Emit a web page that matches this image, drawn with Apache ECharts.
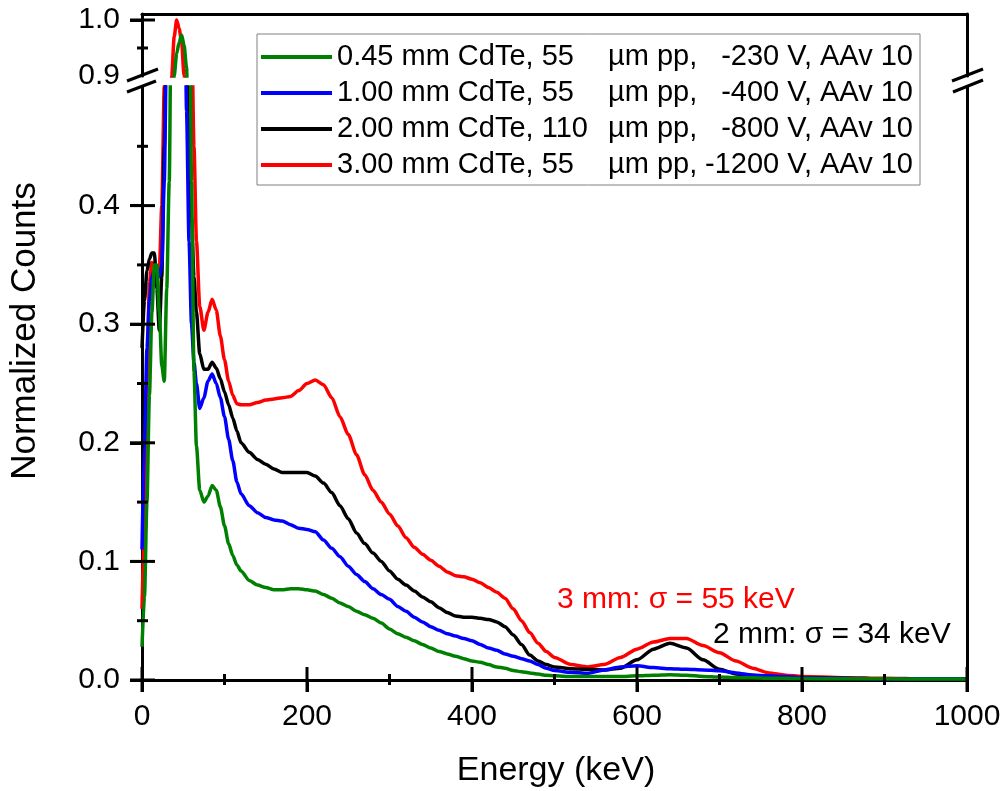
<!DOCTYPE html>
<html>
<head>
<meta charset="utf-8">
<script src="https://cdn.jsdelivr.net/npm/echarts@6/dist/echarts.min.js"></script>
<style>
  html, body { margin: 0; padding: 0; background: #fff; }
  #chart { width: 1004px; height: 791px; }
</style>
</head>
<body>
<div id="chart"></div>
<script>
// energy grid (keV), shared by all four spectra
const energy = [0, 3, 6, 9, 12, 15, 18, 21, 24, 27, 30, 33, 36, 39, 42, 45, 48, 51, 54, 57, 60, 63, 66,
  70, 75, 80, 85, 90, 95, 100, 105, 110, 115, 120,
  130, 140, 150, 160, 170, 180, 190, 200, 210, 220, 230, 240, 250, 260, 270, 280, 290, 300,
  310, 320, 330, 340, 350, 360, 370, 380, 390, 400, 410, 420, 430, 440, 450, 460, 470, 480, 490, 500,
  520, 540, 560, 580, 600, 620, 640, 660, 680, 700, 720, 740, 760, 780, 800,
  850, 900, 950, 1000];

// 0.45 mm
const green = [0.028, 0.07, 0.15, 0.24, 0.31, 0.35, 0.35, 0.31, 0.265, 0.252, 0.33, 0.42, 0.62, 0.9, 0.94, 0.96, 0.973, 0.955, 0.915, 0.7, 0.42, 0.26, 0.197,
  0.16, 0.15, 0.155, 0.164, 0.16, 0.146, 0.13, 0.115, 0.105, 0.097, 0.092,
  0.084, 0.08, 0.078, 0.076, 0.076, 0.077, 0.077, 0.076, 0.075, 0.072, 0.069, 0.065, 0.062, 0.058, 0.055, 0.052, 0.048, 0.043,
  0.039, 0.036, 0.033, 0.03, 0.027, 0.024, 0.022, 0.02, 0.018, 0.016, 0.015, 0.013, 0.011, 0.01, 0.008, 0.007, 0.006, 0.005, 0.004, 0.0035,
  0.003, 0.003, 0.003, 0.003, 0.0035, 0.004, 0.0045, 0.004, 0.003, 0.0025, 0.002, 0.002, 0.0015, 0.0015, 0.0012,
  0.001, 0.001, 0.0008, 0.0008];

// 1.00 mm
const blue = [0.11, 0.2, 0.28, 0.32, 0.34, 0.345, 0.345, 0.34, 0.35, 0.42, 0.55, 0.7, 0.8, 0.84, 0.85, 0.83, 0.78, 0.66, 0.48, 0.37, 0.3, 0.268, 0.25,
  0.229, 0.238, 0.252, 0.258, 0.25, 0.238, 0.222, 0.203, 0.185, 0.167, 0.157,
  0.147, 0.141, 0.137, 0.135, 0.134, 0.131, 0.128, 0.127, 0.125, 0.118, 0.111, 0.104, 0.096, 0.089, 0.083, 0.077, 0.072, 0.068,
  0.062, 0.058, 0.053, 0.049, 0.045, 0.042, 0.039, 0.037, 0.035, 0.033, 0.03, 0.027, 0.025, 0.022, 0.02, 0.018, 0.016, 0.013, 0.01, 0.008,
  0.0065, 0.0056, 0.0085, 0.011, 0.012, 0.0105, 0.0095, 0.009, 0.0085, 0.0078, 0.006, 0.004, 0.0035, 0.003, 0.002,
  0.0015, 0.001, 0.001, 0.001];

// 2.00 mm
const black = [0.28, 0.32, 0.345, 0.355, 0.36, 0.36, 0.33, 0.295, 0.34, 0.45, 0.58, 0.68, 0.74, 0.77, 0.78, 0.76, 0.72, 0.63, 0.53, 0.45, 0.39, 0.34, 0.31,
  0.275, 0.262, 0.262, 0.268, 0.263, 0.254, 0.243, 0.232, 0.221, 0.21, 0.2,
  0.192, 0.186, 0.182, 0.178, 0.175, 0.175, 0.175, 0.175, 0.172, 0.166, 0.158, 0.147, 0.136, 0.124, 0.115, 0.107, 0.1, 0.092,
  0.085, 0.08, 0.075, 0.07, 0.066, 0.061, 0.057, 0.054, 0.053, 0.053, 0.052, 0.051, 0.049, 0.045, 0.038, 0.03, 0.021, 0.016, 0.013, 0.011,
  0.0095, 0.009, 0.0085, 0.01, 0.017, 0.026, 0.031, 0.027, 0.017, 0.009, 0.005, 0.004, 0.003, 0.002, 0.002,
  0.0015, 0.001, 0.001, 0.001];

// 3.00 mm
const red = [0.06, 0.13, 0.25, 0.335, 0.352, 0.35, 0.343, 0.345, 0.4, 0.5, 0.62, 0.78, 0.9, 0.97, 1.0, 0.985, 0.96, 0.9, 0.8, 0.68, 0.56, 0.45, 0.37,
  0.315, 0.295, 0.31, 0.321, 0.312, 0.29, 0.27, 0.252, 0.24, 0.233, 0.232,
  0.232, 0.234, 0.236, 0.237, 0.238, 0.239, 0.244, 0.25, 0.253, 0.249, 0.238, 0.222, 0.207, 0.19, 0.173, 0.16, 0.15, 0.14,
  0.13, 0.12, 0.112, 0.106, 0.101, 0.096, 0.091, 0.088, 0.087, 0.085, 0.082, 0.078, 0.074, 0.069, 0.06, 0.05, 0.04, 0.031, 0.024, 0.019,
  0.013, 0.011, 0.013, 0.019, 0.026, 0.032, 0.035, 0.035, 0.029, 0.023, 0.016, 0.01, 0.006, 0.004, 0.003,
  0.002, 0.0015, 0.001, 0.001];

const thickness = ["0.45", "1.00", "2.00", "3.00"];
const pitch = ["55", "55", "110", "55"];
const bias = ["-230", "-400", "-800", "-1200"];
const names = thickness.map((t, i) => t + " mm CdTe, " + pitch[i] + " µm pp, " + bias[i] + " V, AAv 10");

const xTicks = [0, 200, 400, 600, 800, 1000];
const xMinor = [100, 300, 500, 700, 900];
const yLabelsUp = [0.9, 1.0];
const yTicksUp = [1.0];
const yMinorUp = [0.95];
const yTicksLow = [0, 0.1, 0.2, 0.3, 0.4];
const yMinorLow = [0.05, 0.15, 0.25, 0.35, 0.45];

const FONT = "Liberation Sans, Arial, sans-serif";
const AX = { color: "#000", width: 3 };

// upper segment 0.9 - 1.01, lower segment 0 - 0.5
const UP = { min: 0.9, max: 1.0107 };
const LOW = { min: 0, max: 0.5 };

function plainAxis(extra) {
  return Object.assign({
    type: "value",
    axisLine: { show: true, onZero: false, lineStyle: AX },
    axisTick: { show: false },
    axisLabel: { show: false },
    splitLine: { show: false },
  }, extra);
}

const xAxis = [
  // top border of upper segment
  plainAxis({ gridIndex: 0, position: "top", min: 0, max: 1000 }),
  // energy axis (outer half of the ticks)
  plainAxis({ gridIndex: 1, position: "bottom", min: 0, max: 1000, interval: 200,
    axisTick: { show: true, length: 12, lineStyle: AX },
    minorTick: { show: true, splitNumber: 2, length: 5, lineStyle: AX },
    axisLabel: { color: "#000", fontSize: 30, fontFamily: FONT, margin: 22, formatter: v => String(v) } }),
];

const yAxis = [
  plainAxis({ gridIndex: 0, position: "left", min: UP.min, max: UP.max,
    axisTick: { show: true, length: 12, customValues: yTicksUp.slice(), lineStyle: AX },
    axisLabel: { customValues: yLabelsUp.slice(), formatter: v => v.toFixed(1), color: "#000", fontSize: 30, fontFamily: FONT, margin: 22 } }),
  plainAxis({ gridIndex: 0, position: "right", min: UP.min, max: UP.max }),
  plainAxis({ gridIndex: 1, position: "left", min: LOW.min, max: LOW.max, interval: 0.1,
    axisTick: { show: true, length: 12, customValues: yTicksLow.slice(), lineStyle: AX },
    axisLabel: { customValues: yTicksLow.slice(), formatter: v => v.toFixed(1), color: "#000", fontSize: 30, fontFamily: FONT, margin: 22 } }),
  plainAxis({ gridIndex: 1, position: "right", min: LOW.min, max: LOW.max }),
];

// drawn back to front: red, black, blue, green on top
const spectra = [
  { name: names[3], color: "#ff0000", vals: red },
  { name: names[2], color: "#000000", vals: black },
  { name: names[1], color: "#0000ff", vals: blue },
  { name: names[0], color: "#008000", vals: green },
];

const series = [];
spectra.forEach(s => {
  const data = energy.map((e, i) => [e, s.vals[i]]);
  [[0, 0], [1, 2]].forEach(([xi, yi]) => {
    series.push({
      type: "line", name: s.name, xAxisIndex: xi, yAxisIndex: yi,
      data: data, symbol: "none", color: s.color, clip: true,
      smooth: 0.25, smoothMonotone: "x",
      lineStyle: { color: s.color, width: 3.5 },
    });
  });
});

function seg(id, x1, y1, x2, y2) {
  return { id: id, type: "line", shape: { x1: x1, y1: y1, x2: x2, y2: y2 },
    style: { stroke: "#000", lineWidth: 3 }, z: 100, silent: true };
}
function bar(id, x, y, w, h) {
  return { id: id, type: "rect", shape: { x: x, y: y, width: w, height: h },
    style: { fill: "#000" }, z: 100, silent: true };
}

const option = {
  animation: false,
  backgroundColor: "#fff",
  grid: [
    { left: 142, right: 37, top: 14, height: 62 },
    { left: 142, right: 37, top: 87, bottom: 111 },
  ],
  xAxis: xAxis,
  yAxis: yAxis,
  legend: {
    orient: "vertical", left: 257, top: 34,
    padding: [8, 7, 5, 4],
    itemWidth: 71, itemHeight: 4, itemGap: 6, icon: "rect",
    backgroundColor: "#fff", borderColor: "#808080", borderWidth: 1,
    data: names,
    formatter: name => {
      const i = names.indexOf(name);
      return "{a|" + thickness[i] + " mm CdTe, " + pitch[i] + "}{b|µm pp,}{c|" + bias[i] + " V, AAv 10}";
    },
    textStyle: {
      color: "#000", fontSize: 29, lineHeight: 30, fontFamily: FONT,
      rich: {
        a: { width: 271, fontSize: 29, fontFamily: FONT, color: "#000" },
        b: { width: 80, fontSize: 29, fontFamily: FONT, color: "#000" },
        c: { width: 225, align: "right", fontSize: 29, fontFamily: FONT, color: "#000" },
      },
    },
  },
  series: series,
};

const chart = echarts.init(document.getElementById("chart"));
chart.setOption(option);

// inner half of the ticks, placed through the axes' own scales
const xAt = v => chart.convertToPixel({ xAxisIndex: 1 }, v);
const yUp = v => chart.convertToPixel({ yAxisIndex: 0 }, v);
const yLow = v => chart.convertToPixel({ yAxisIndex: 2 }, v);
const axisY = yLow(0);
const axisX = xAt(0);

const graphic = [
  // break marks
  seg("b1", 127, 81, 158, 69),
  seg("b2", 127, 92, 156, 81),
  seg("b3", 952, 81, 983, 69),
  seg("b4", 953, 92, 983, 80),
  { id: "ytitle", type: "text", x: 25, y: 331, rotation: Math.PI / 2,
    style: { text: "Normalized Counts", font: "35px " + FONT, fill: "#000", align: "center", verticalAlign: "middle" } },
  { id: "xtitle", type: "text", x: 556, y: 771,
    style: { text: "Energy (keV)", font: "34px " + FONT, fill: "#000", align: "center", verticalAlign: "middle" } },
  { id: "note3", type: "text", x: 557, y: 600,
    style: { text: "3 mm: σ = 55 keV", font: "30px " + FONT, fill: "#ff0000", align: "left", verticalAlign: "middle" } },
  { id: "note2", type: "text", x: 713, y: 635,
    style: { text: "2 mm: σ = 34 keV", font: "30px " + FONT, fill: "#000", align: "left", verticalAlign: "middle" } },
];
xTicks.forEach((v, i) => graphic.push(bar("xt" + i, xAt(v) - 1.5, axisY - 13, 3, 25)));
xMinor.forEach((v, i) => graphic.push(bar("xm" + i, xAt(v) - 1.5, axisY - 6, 3, 11)));
yTicksLow.forEach((v, i) => graphic.push(bar("yt" + i, axisX - 12, yLow(v) - 1.5, 25, 3)));
yMinorLow.forEach((v, i) => graphic.push(bar("ym" + i, axisX - 5, yLow(v) - 1.5, 11, 3)));
yTicksUp.forEach((v, i) => graphic.push(bar("ut" + i, axisX - 12, yUp(v) - 1.5, 25, 3)));
yMinorUp.forEach((v, i) => graphic.push(bar("um" + i, axisX - 5, yUp(v) - 1.5, 11, 3)));
chart.setOption({ graphic: graphic });
</script>
</body>
</html>
